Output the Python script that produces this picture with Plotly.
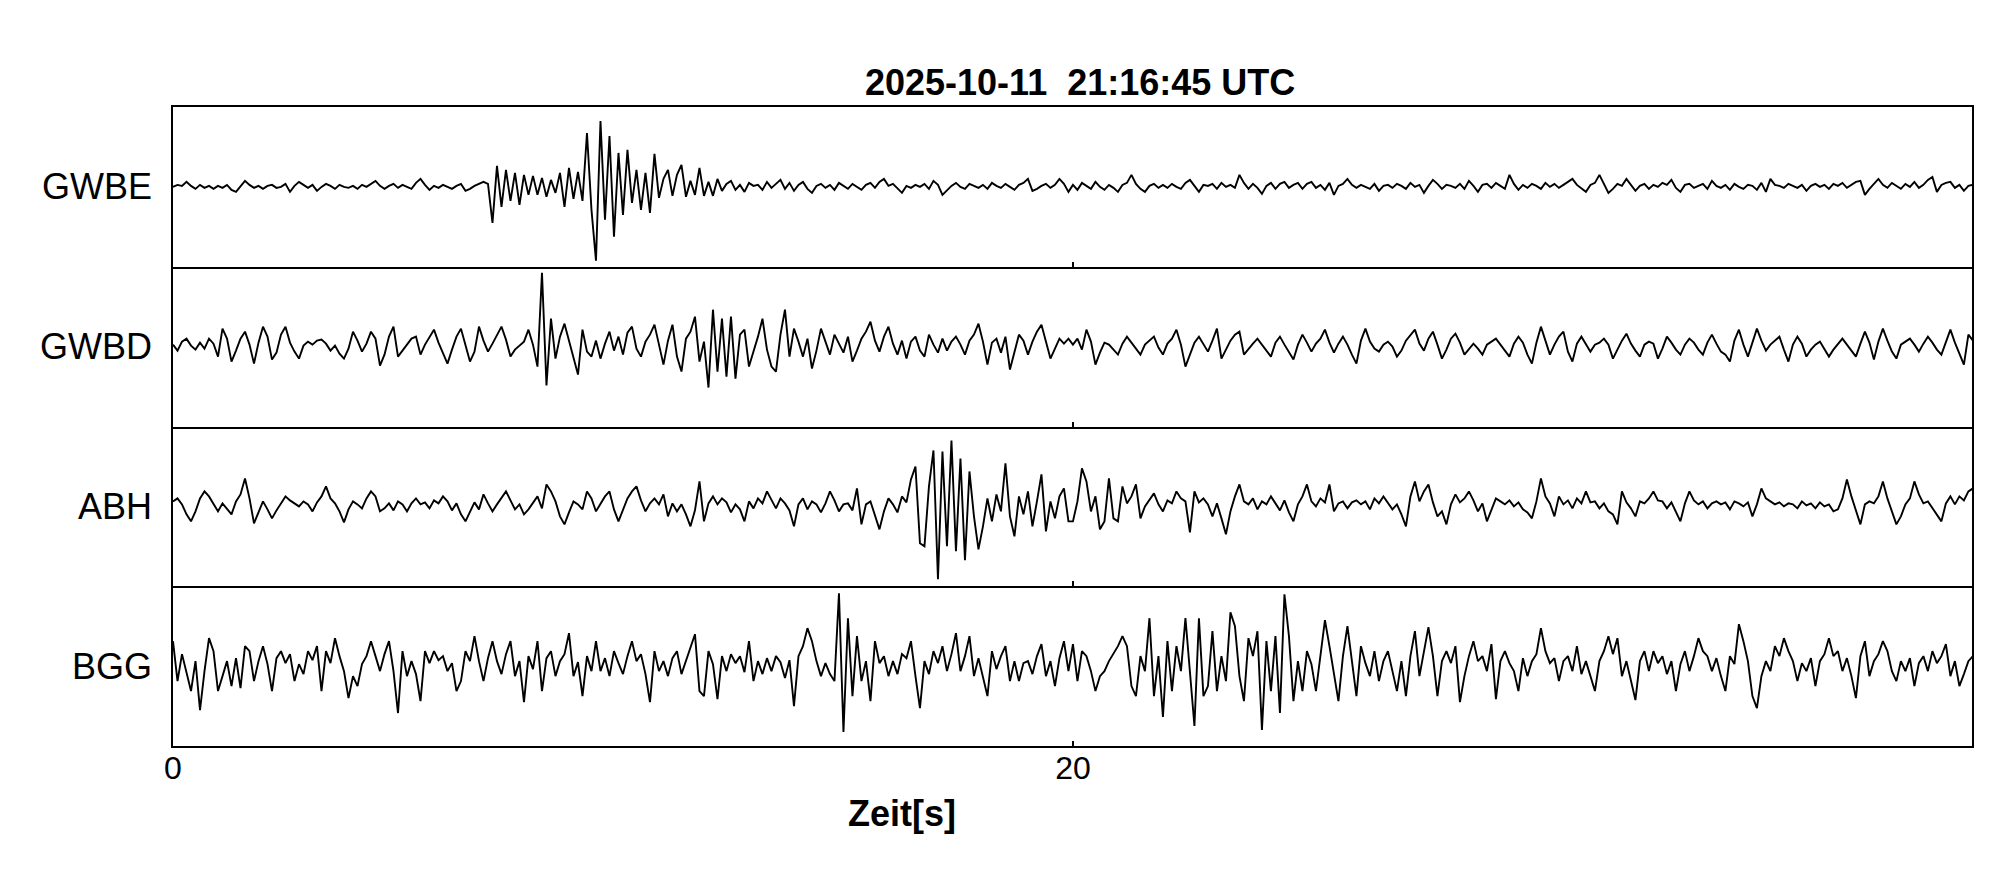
import numpy as np
import plotly.graph_objects as go
from plotly.subplots import make_subplots

stations = ["GWBE", "GWBD", "ABH", "BGG"]
t_end = 40.0
tick_vals = [0, 20]
tick_text = ["0", "20"]
title_text = "2025-10-11\u00a0 21:16:45 UTC"
x_title = "Zeit[s]"

gwbe = [0,2,1,5,1,-2,2,-1,1,-2,
        1,-1,2,-3,-5,1,6,2,-1,1,
        -2,1,2,-1,0,3,-5,1,5,2,
        -1,2,-4,0,3,1,-2,2,0,-1,
        1,-2,2,0,3,6,1,-2,1,3,
        -1,2,0,-2,4,8,2,-3,1,-1,
        2,0,-2,1,3,-4,-2,1,3,5,
        3,-36,21,-20,17,-14,14,-18,12,-8,
        11,-8,9,-10,7,-6,14,-20,19,-12,
        15,-14,54,-23,-74,66,-33,51,-50,34,
        -28,37,-16,17,-23,14,-26,33,-11,8,
        17,-9,12,22,-10,6,-8,19,-9,5,
        -9,8,-4,3,6,-3,2,-5,4,1,
        2,-3,5,-1,3,7,-2,4,-4,2,
        5,-2,-6,1,3,-1,2,-3,4,1,
        -2,3,0,-3,2,4,-1,5,8,1,
        3,-2,-6,1,-1,2,0,3,-2,6,
        2,-8,-3,1,4,0,-2,3,1,-1,
        2,-2,4,1,-1,3,0,-3,2,4,
        8,-4,-2,1,3,-1,2,8,3,-5,
        2,-3,4,1,-2,5,0,-3,2,-1,
        -5,2,4,12,3,-2,-5,1,3,-1,
        2,-1,3,0,-2,4,7,1,-5,2,
        1,3,-2,4,0,2,-1,12,4,-2,
        3,-1,-7,1,4,-2,3,5,-1,2,
        4,-2,3,5,-1,2,-3,4,-8,1,
        3,8,2,-1,2,0,-2,3,-4,1,
        2,-1,3,1,-2,4,0,2,-6,1,
        7,3,-2,2,1,-1,3,-2,6,1,
        -5,2,3,-1,4,1,-2,12,3,-3,
        2,-1,3,1,-2,4,0,3,-1,2,
        5,8,2,-2,-5,2,4,12,3,-6,
        -2,3,1,8,2,-4,1,3,-2,2,
        0,4,2,7,-1,-5,2,3,-1,1,
        3,-2,6,1,-1,2,-3,3,0,-2,
        2,1,-3,4,-5,8,2,1,-1,3,
        1,-1,2,-4,1,3,0,2,-2,3,
        1,4,-1,2,5,6,-8,-2,3,8,
        2,-1,4,1,-2,3,0,5,-1,2,
        7,10,-5,2,4,5,-1,2,-4,1,
        2]

gwbd = [2,-4,5,8,1,-3,4,-2,8,3,
        -10,18,8,-15,-4,8,15,2,-17,4,
        20,10,-13,-6,12,20,4,-5,-12,1,
        5,2,6,7,3,-4,1,-7,-12,-2,
        15,6,-5,3,15,8,-19,-8,10,20,
        -10,-4,3,8,10,-8,2,9,17,4,
        -6,-17,-3,10,18,2,-15,-5,20,6,
        -5,3,12,20,7,-10,-3,1,5,17,
        2,-20,74,-39,28,-12,10,23,5,-10,
        -28,17,-5,-10,6,-12,3,15,-4,10,
        -8,14,20,-2,-10,5,12,22,3,-18,
        6,22,-10,-25,8,15,30,-15,5,-41,
        37,-25,28,-30,30,-32,12,17,-20,-6,
        10,28,-3,-20,-25,12,37,-10,18,5,
        -10,8,-22,-4,18,5,-8,12,3,-6,
        10,-15,-4,8,15,25,6,-5,10,20,
        3,-8,6,-12,5,10,-4,-10,12,2,
        -6,8,-4,5,10,2,-8,6,12,23,
        5,-18,4,8,-6,10,-23,-4,12,6,
        -8,5,15,22,6,-12,-2,8,3,8,
        2,8,-3,17,5,-18,-6,4,2,-3,
        -8,3,10,4,-2,-8,2,6,10,-1,
        -8,3,8,17,2,-20,-8,4,10,2,
        -5,6,18,-12,-3,6,12,15,-8,-2,
        3,8,2,-4,-10,4,10,2,-6,-13,
        2,12,4,-5,3,8,17,4,-6,3,
        10,2,-8,-17,6,18,5,-2,-5,2,
        5,0,-10,-4,6,12,17,3,-4,8,
        15,2,-12,-3,8,13,4,-8,-2,3,
        -2,-8,2,5,8,2,-4,-10,3,10,
        4,-8,-17,4,20,6,-8,2,10,15,
        -5,-15,3,10,2,-5,2,4,8,2,
        -12,-3,6,13,3,-4,-10,2,5,3,
        -12,-2,10,4,-3,-8,2,8,4,-3,
        -8,4,12,3,-5,-8,-15,6,17,2,
        -10,4,18,6,-4,2,6,10,-3,-15,
        2,10,3,-10,-3,2,5,-2,-10,-3,
        3,8,2,-4,-10,3,15,4,-13,5,
        18,6,-5,-12,2,5,8,2,-5,3,
        10,4,-3,-8,5,17,4,-8,-18,12,
        6]

abh = [5,8,2,-8,-15,-5,8,15,10,2,
       -5,3,-2,-8,5,12,28,8,-17,-6,
       5,-3,-12,-4,3,10,6,3,0,5,
       2,-5,4,10,20,8,3,-5,-16,-3,
       5,2,-2,8,15,10,-5,-2,3,-4,
       5,2,-5,3,8,2,4,-2,6,3,
       10,5,-4,3,-8,-15,-6,4,-3,12,
       3,-5,2,8,15,6,-3,2,-8,-3,
       4,10,-2,22,15,5,-10,-18,-6,5,
       2,-3,15,8,-5,2,10,15,-3,-15,
       -4,8,15,20,6,-5,3,8,2,12,
       -10,3,-5,2,-8,-20,-4,25,-15,3,
       10,2,8,4,-6,2,-3,-15,5,-2,
       8,3,15,6,-2,8,3,-4,-20,2,
       8,-3,5,2,-6,3,15,6,-5,2,
       3,-4,18,-18,2,5,-8,-23,-5,8,
       2,-6,10,4,27,40,-37,-40,20,56,
       -73,55,-40,66,-45,48,-54,35,-10,-43,
       -20,8,-15,12,-5,43,-10,-30,10,-8,
       15,-20,5,32,-25,5,-12,10,18,-15,
       -15,5,38,25,-5,10,-23,-15,28,-12,
       -15,20,3,10,22,-12,0,6,13,2,
       -5,6,3,15,8,5,-26,15,4,8,
       2,-10,3,-12,-28,-5,10,22,5,2,
       8,-3,5,2,10,3,-4,6,-6,-15,
       2,10,22,5,0,8,4,22,-5,3,
       5,-2,4,6,2,5,-3,8,3,10,
       4,-3,2,-8,-20,10,25,5,15,22,
       4,-10,-5,-18,2,12,4,8,15,6,
       -5,3,-15,-4,8,5,2,6,0,4,
       -3,-6,-12,5,28,10,3,-10,10,2,
       6,-2,8,3,15,4,5,-2,3,-5,
       -8,-18,15,4,-2,-10,5,3,8,15,
       6,5,-2,4,-5,-15,3,15,6,2,
       5,-2,3,5,2,4,-3,5,3,0,
       4,-10,2,18,8,5,2,4,0,3,
       2,-2,5,1,3,-2,4,0,2,-5,
       -3,8,27,10,-5,-18,2,5,3,10,
       25,8,-5,-18,-10,2,8,25,12,3,
       5,-2,-8,-15,3,10,2,10,6,15,
       18]

bgg = [25,-15,12,-8,-25,5,-44,-5,28,15,
       -25,-10,5,-20,8,-22,20,15,-15,5,
       20,2,-25,8,15,3,12,-15,2,-8,
       15,6,20,-25,15,3,28,10,-5,-32,
       -10,-20,2,10,25,10,-5,12,25,-5,
       -47,15,-10,5,-8,-35,15,3,15,6,
       10,-5,3,-25,-15,15,5,30,5,-15,
       8,25,5,-8,12,25,-10,5,-36,10,
       -3,25,-25,8,15,-10,5,12,33,-10,
       4,-30,10,-5,25,-5,8,-10,15,3,
       -8,10,25,5,12,-8,-36,15,-5,5,
       -10,8,15,-8,5,20,32,-25,-30,15,
       2,-33,10,-5,12,3,10,-6,25,-15,
       5,-8,8,-5,10,4,-12,6,-40,10,
       20,38,25,5,-10,3,-8,-15,73,-66,
       48,-30,30,-15,5,-35,25,3,10,-10,
       5,-8,12,8,25,-10,-42,5,-8,15,
       3,20,-5,12,33,-5,10,30,-10,8,
       -12,-30,15,-3,10,20,-15,5,-15,3,
       5,-8,10,22,-10,5,-20,8,25,-5,
       22,-15,15,10,-5,-25,-10,-5,5,12,
       20,30,20,-20,-30,10,-5,48,-30,10,
       -51,25,-25,20,-5,48,-5,-60,48,-30,
       -20,35,-25,10,-15,54,40,-10,-35,28,
       10,35,-64,25,-25,30,-47,72,30,-35,
       5,-25,15,2,-25,10,46,20,-10,-35,
       10,40,5,-30,20,3,-10,15,-15,5,
       15,-5,-25,5,-30,10,35,-10,15,39,
       10,-30,5,15,3,20,-36,-10,10,25,
       5,10,-5,22,-33,5,15,3,-5,-25,
       8,-10,5,12,38,15,3,8,-15,5,
       10,-5,20,-8,5,-10,-25,5,15,30,
       12,28,-10,5,-15,-34,5,15,-5,15,
       3,10,-8,5,-25,2,15,-5,10,28,
       15,10,-5,8,-10,-25,10,2,42,25,
       5,-30,-42,-10,5,-5,20,10,28,15,
       5,-15,3,-5,8,-20,5,12,28,10,
       15,-5,8,-10,-32,10,25,-10,5,12,
       25,15,-5,-15,5,-5,8,-20,3,10,
       -5,15,3,10,22,-10,5,-20,-8,5,
       10]

traces = [gwbe, gwbd, abh, bgg]

FONT = "Liberation Sans, Arial, Helvetica, sans-serif"

fig = make_subplots(rows=4, cols=1, shared_xaxes=True, vertical_spacing=0)

for i, (name, vals) in enumerate(zip(stations, traces), start=1):
    t = np.linspace(0, t_end, len(vals))
    fig.add_trace(go.Scatter(x=t, y=vals, mode="lines",
                             line=dict(color="black", width=1.9),
                             showlegend=False, hoverinfo="skip"),
                  row=i, col=1)
    fig.update_yaxes(range=[-80, 80], showticklabels=False, ticks="",
                     showgrid=False, zeroline=False, showline=True,
                     linecolor="black", linewidth=2, mirror=True,
                     row=i, col=1)
    fig.update_xaxes(range=[0, 39.98], tickvals=tick_vals, ticktext=tick_text,
                     ticks="inside", ticklen=5, tickwidth=1.5, tickcolor="black",
                     showgrid=False, zeroline=False, showline=True,
                     linecolor="black", linewidth=2, mirror=(i == 1),
                     showticklabels=(i == 4), ticklabelstandoff=-7,
                     tickfont=dict(family=FONT, size=32, color="black"),
                     row=i, col=1)
    yref = "y domain" if i == 1 else f"y{i} domain"
    fig.add_annotation(text=name, xref="paper", x=0, xanchor="right", xshift=-19,
                       yref=yref, y=0.5, yanchor="middle", showarrow=False,
                       font=dict(family=FONT, size=36, color="black"))

fig.add_annotation(text=f"<b>{title_text}</b>", xref="paper", x=0.504, xanchor="center",
                   yref="paper", y=1.039, yanchor="middle", showarrow=False,
                   font=dict(family=FONT, size=36, color="black"))
fig.add_annotation(text=f"<b>{x_title}</b>", xref="paper", x=0.405, xanchor="center",
                   yref="paper", y=-0.1056, yanchor="middle", showarrow=False,
                   font=dict(family=FONT, size=36, color="black"))

fig.update_layout(width=2005, height=880,
                  margin=dict(l=173, r=33, t=107, b=134),
                  paper_bgcolor="white", plot_bgcolor="white",
                  font=dict(family=FONT, color="black"))

fig.write_html("out.html", config={"displayModeBar": False},
               post_script="document.body.style.margin='0';")
